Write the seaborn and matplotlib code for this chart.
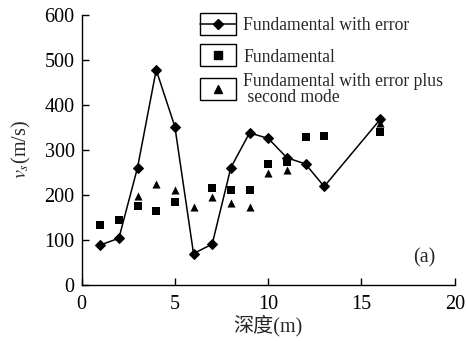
import matplotlib
matplotlib.use('Agg')
import matplotlib.pyplot as plt
from matplotlib.lines import Line2D
from matplotlib.patches import Rectangle
from matplotlib.legend_handler import HandlerLine2D
import numpy as np
import pandas as pd
import seaborn as sns

# Data
depth_err = [1, 2, 3, 4, 5, 6, 7, 8, 9, 10, 11, 12, 13, 16]
vs_err = [89, 104, 261, 478, 352, 70, 91, 261, 338, 326, 283, 269, 219, 368]

depth_fund = [1, 2, 3, 4, 5, 7, 8, 9, 10, 11, 12, 13, 16]
vs_fund = [133, 144, 176, 165, 184, 215, 211, 211, 270, 273, 328, 332, 339]

depth_mode2 = [3, 4, 5, 6, 7, 8, 9, 10, 11, 16]
vs_mode2 = [198, 224, 211, 174, 195, 183, 174, 250, 256, 359]

labels = ['Fundamental with error', 'Fundamental',
          'Fundamental with error plus\n second mode']


class BoxedHandler(HandlerLine2D):
    """Legend handle drawn inside a small rectangle."""

    def create_artists(self, legend, orig_handle, xdescent, ydescent,
                       width, height, fontsize, trans):
        artists = super().create_artists(legend, orig_handle, xdescent, ydescent,
                                         width, height, fontsize, trans)
        box_h = 1.25 * fontsize
        yc = (height - ydescent) / 2 - 0.22 * fontsize
        for art in artists:
            art.set_ydata(np.full_like(np.asarray(art.get_xdata(), dtype=float), yc))
        rect = Rectangle((-xdescent, yc - box_h / 2), width, box_h, fill=False,
                         edgecolor='black', linewidth=1.0, transform=trans)
        return [rect] + list(artists)


sns.set_style('ticks')
plt.rcParams['font.family'] = ['Liberation Serif', 'Noto Sans CJK SC']
plt.rcParams['mathtext.fontset'] = 'stix'

fig = plt.figure(figsize=(4.66, 3.41), dpi=100)
ax = fig.add_axes([0.175, 0.164, 0.801, 0.792])

df_err = pd.DataFrame({'depth': depth_err, 'vs': vs_err})
df_fund = pd.DataFrame({'depth': depth_fund, 'vs': vs_fund})
df_mode2 = pd.DataFrame({'depth': depth_mode2, 'vs': vs_mode2})

sns.lineplot(data=df_err, x='depth', y='vs', ax=ax, color='black', linewidth=1.1,
             marker='D', markersize=5.5, markeredgecolor='black', sort=False)
sns.scatterplot(data=df_fund, x='depth', y='vs', ax=ax, color='black', marker='s',
                s=30, edgecolor='black', linewidth=0)
sns.scatterplot(data=df_mode2, x='depth', y='vs', ax=ax, color='black', marker='^',
                s=34, edgecolor='black', linewidth=0)

ax.set_xlim(0, 20)
ax.set_ylim(0, 600)
ax.set_xticks([0, 5, 10, 15, 20])
ax.set_yticks(range(0, 601, 100))
ax.tick_params(direction='in', length=5, width=1, labelsize=14.5, colors='black')
ax.tick_params(axis='x', pad=7)
ax.tick_params(axis='y', pad=5)
sns.despine(ax=ax)
for sp in ['left', 'bottom']:
    ax.spines[sp].set_linewidth(1.0)
    ax.spines[sp].set_color('black')

ax.set_xlabel('深度(m)', fontsize=14.5, labelpad=1)
ax.set_ylabel(r'$v_s$(m/s)', fontsize=14.5, labelpad=8)
ax.text(18.36, 60, '(a)', fontsize=14.5, ha='center', va='center')

handles = [
    Line2D([], [], color='black', linewidth=1.1, marker='D', markersize=5.5),
    Line2D([], [], color='black', linestyle='none', marker='s', markersize=5.5),
    Line2D([], [], color='black', linestyle='none', marker='^', markersize=6),
]
leg = ax.legend(handles, labels, loc='upper left', bbox_to_anchor=(200 / 466, 1 - 9 / 341),
                bbox_transform=fig.transFigure, frameon=False, fontsize=12.7,
                handlelength=2.05, handleheight=2.4, handletextpad=0.4,
                labelspacing=0.0, borderpad=0,
                borderaxespad=0, handler_map={Line2D: BoxedHandler()})
leg.get_texts()[2].set_linespacing(0.95)

plt.savefig('out.png', dpi=100)
plt.close(fig)
